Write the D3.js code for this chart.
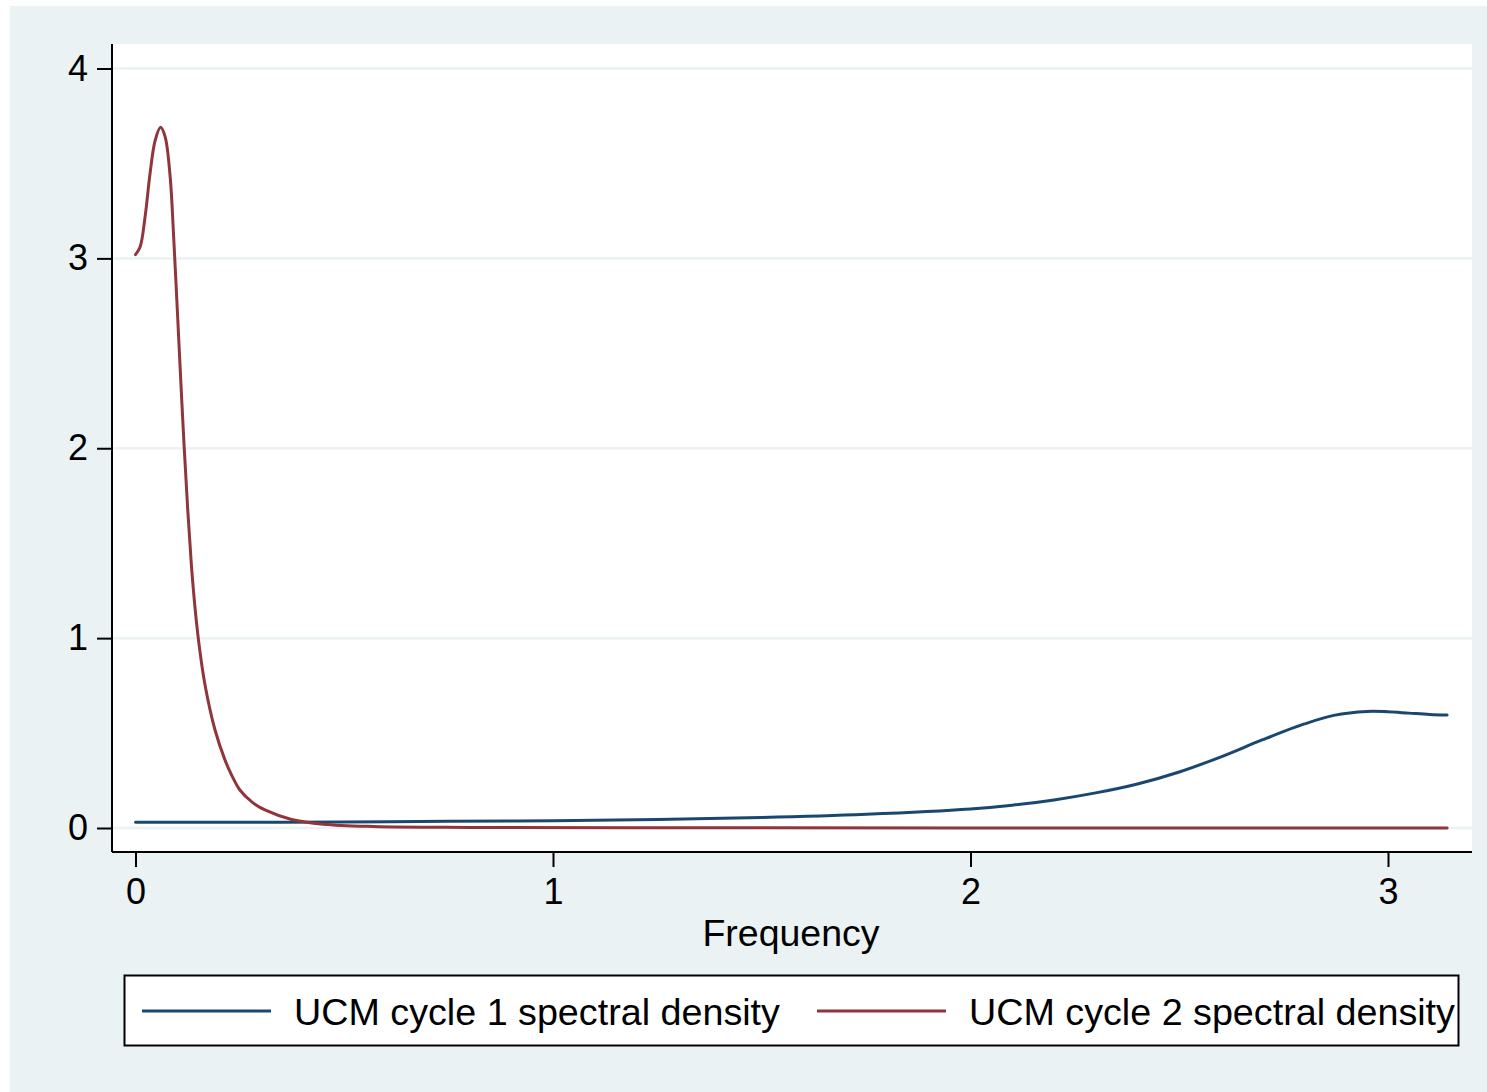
<!DOCTYPE html>
<html>
<head>
<meta charset="utf-8">
<script src="https://cdn.jsdelivr.net/npm/d3@7"></script>
<style>
  body { margin: 0; background: #fff; }
  text { font-family: "Liberation Sans", Arial, Helvetica, sans-serif; fill: #000; }
</style>
</head>
<body>
<div id="chart"></div>
<script>
// values
const xTicks = [0, 1, 2, 3];
const yTicks = [0, 1, 2, 3, 4];
const seriesNames = ["UCM cycle 1 spectral density", "UCM cycle 2 spectral density"];
const seriesColors = ["#1a476f", "#90353b"];

const cycle1Freq = [0, 0.25, 0.5, 0.75, 1.0, 1.25, 1.5, 1.75, 2.0, 2.1, 2.2, 2.3, 2.4, 2.5, 2.6, 2.7, 2.8, 2.87, 2.95, 3.0, 3.05, 3.1, 3.1416];
const cycle1Dens = [0.030, 0.030, 0.032, 0.035, 0.038, 0.045, 0.055, 0.072, 0.100, 0.120, 0.148, 0.185, 0.232, 0.295, 0.375, 0.465, 0.548, 0.593, 0.614, 0.612, 0.605, 0.598, 0.595];

const cycle2Freq = [0, 0.011, 0.023, 0.035, 0.047, 0.060, 0.071, 0.083, 0.091, 0.099, 0.107, 0.116, 0.125, 0.134, 0.143, 0.152, 0.166, 0.190, 0.214, 0.230, 0.250, 0.280, 0.310, 0.374, 0.450, 0.570, 0.800, 1.200, 2.000, 3.1416];
const cycle2Dens = [3.02, 3.06, 3.22, 3.45, 3.62, 3.69, 3.64, 3.43, 3.13, 2.78, 2.42, 2.03, 1.68, 1.38, 1.15, 0.97, 0.76, 0.52, 0.36, 0.28, 0.20, 0.135, 0.095, 0.045, 0.020, 0.008, 0.003, 0.001, 0.0005, 0.0003];

const W = 1487, H = 1092;
const plot = { left: 112, right: 1472, top: 44, bottom: 852 };

const svg = d3.select("#chart").append("svg")
    .attr("width", W)
    .attr("height", H);

// outer graph region
svg.append("rect")
    .attr("x", 10).attr("y", 6)
    .attr("width", W - 10).attr("height", H - 6)
    .attr("fill", "#eaf2f3");

// plot region
svg.append("rect")
    .attr("x", plot.left).attr("y", plot.top)
    .attr("width", plot.right - plot.left).attr("height", plot.bottom - plot.top)
    .attr("fill", "#fff");

const x = d3.scaleLinear().domain([0, 3]).range([135.5, 1388]);
const y = d3.scaleLinear().domain([0, 4]).range([828, 68.5]);

// gridlines
svg.append("g")
    .selectAll("line")
    .data(yTicks)
    .enter().append("line")
    .attr("x1", plot.left).attr("x2", plot.right)
    .attr("y1", d => y(d)).attr("y2", d => y(d))
    .attr("stroke", "#eaf2f3")
    .attr("stroke-width", 2.5);

// series
const line = d3.line()
    .x(d => x(d[0]))
    .y(d => y(d[1]))
    .curve(d3.curveCatmullRom.alpha(0.5));

const series = [
    d3.zip(cycle1Freq, cycle1Dens),
    d3.zip(cycle2Freq, cycle2Dens)
];

svg.append("g")
    .selectAll("path")
    .data(series)
    .enter().append("path")
    .attr("d", line)
    .attr("fill", "none")
    .attr("stroke", (d, i) => seriesColors[i])
    .attr("stroke-width", 3)
    .attr("stroke-linejoin", "round")
    .attr("stroke-linecap", "round");

// y axis
const yAxis = svg.append("g")
    .attr("transform", `translate(${plot.left},0)`)
    .call(d3.axisLeft(y).tickValues(yTicks).tickSize(15).tickPadding(9).tickFormat(d3.format("d")));
yAxis.select(".domain").attr("d", `M0,${plot.top}V${plot.bottom}`);

// x axis
const xAxis = svg.append("g")
    .attr("transform", `translate(0,${plot.bottom})`)
    .call(d3.axisBottom(x).tickValues(xTicks).tickSize(15).tickPadding(11).tickFormat(d3.format("d")));
xAxis.select(".domain").attr("d", `M${plot.left},0H${plot.right}`);

svg.selectAll(".domain, .tick line")
    .attr("stroke", "#000")
    .attr("stroke-width", 2);
svg.selectAll(".tick text")
    .attr("font-size", 36)
    .attr("font-family", "'Liberation Sans', Arial, sans-serif")
    .attr("fill", "#000");

// axis title
svg.append("text")
    .attr("x", 791).attr("y", 946)
    .attr("text-anchor", "middle")
    .attr("font-size", 37.5)
    .text("Frequency");

// legend
const legend = svg.append("g");
legend.append("rect")
    .attr("x", 124.5).attr("y", 975.5)
    .attr("width", 1334).attr("height", 70)
    .attr("fill", "#fff")
    .attr("stroke", "#000")
    .attr("stroke-width", 2);

const legendX = [142, 817];
const items = legend.selectAll("g.item")
    .data(seriesNames)
    .enter().append("g")
    .attr("class", "item")
    .attr("transform", (d, i) => `translate(${legendX[i]},1011)`);
items.append("line")
    .attr("x1", 0).attr("x2", 129)
    .attr("y1", 0).attr("y2", 0)
    .attr("stroke", (d, i) => seriesColors[i])
    .attr("stroke-width", 3);
items.append("text")
    .attr("x", 152).attr("y", 14)
    .attr("font-size", 37.7)
    .text(d => d);
</script>
</body>
</html>
